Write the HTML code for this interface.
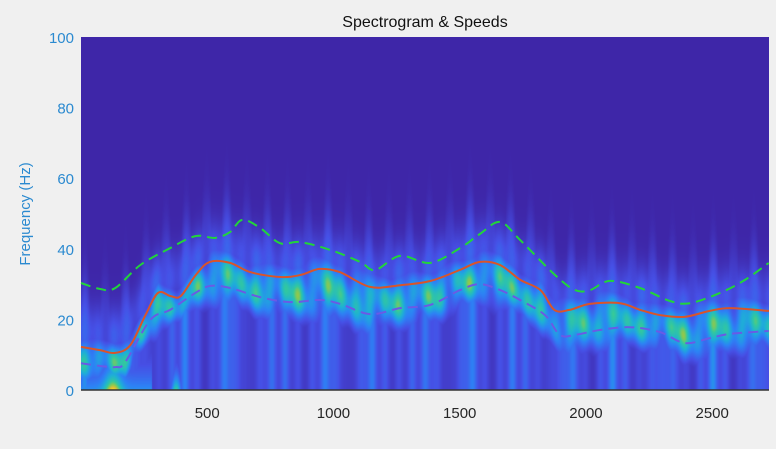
<!DOCTYPE html>
<html><head><meta charset="utf-8">
<style>
html,body{margin:0;padding:0;background:#f0f0f0;}
#wrap{position:relative;width:776px;height:449px;font-family:"Liberation Sans",sans-serif;}
canvas{position:absolute;left:81px;top:37px;}
svg{position:absolute;left:0;top:0;}
</style></head>
<body>
<div id="wrap">
<canvas id="spec" width="688" height="353"></canvas>
<svg id="svg" width="776" height="449"></svg>
</div>
<script>
const xTicks=[500,1000,1500,2000,2500];
const yTicks=[0,20,40,60,80,100];
const speedX=[0,75,135,195,255,305,355,395,455,510,590,670,790,870,945,1025,1145,1265,1385,1500,1580,1660,1740,1820,1875,1935,2015,2135,2215,2295,2390,2490,2570,2725];
const speedY=[12.2,11.3,10.5,12.7,21.2,27.5,26.6,26.6,32.6,36.3,36,33.4,32,32.6,34.3,33.4,29.2,29.7,30.9,34,36.3,35.4,31.2,28.3,22.7,22.7,24.4,24.6,22.7,21.2,20.7,22.4,23.2,22.4];
const upperX=[0,76,136,235,353,453,532,591,639,710,788,868,987,1105,1165,1264,1383,1501,1580,1660,1739,1877,1957,2016,2095,2214,2333,2412,2531,2630,2724];
const upperY=[30.3,28.6,28.9,35.4,40.2,43.6,43.1,44.8,48.2,45.9,41.6,41.9,39.7,36.3,34,38,36,40.2,44.2,47.6,42.5,32.6,28.3,28.3,30.9,28.9,25.2,24.6,27.5,31.2,36];
const lowerX=[0,76,136,175,274,353,453,512,591,710,828,947,1026,1145,1264,1383,1501,1580,1660,1739,1838,1897,1957,2055,2174,2293,2392,2491,2570,2724];
const lowerY=[7.6,6.8,6.5,7.9,19.8,22.7,27.5,29.5,28.9,26.3,24.9,25.5,24.4,21.5,23.2,24.1,28.3,30,28.3,25.5,21.2,15.6,15.6,17,17.8,16.4,13.3,14.7,15.9,16.7];
const xMax=2725,yMax=100;
const L=81,T=37,W=688,H=353;
const sx=v=>L+v/xMax*W, sy=v=>T+H-v/yMax*H;
function interp(xs,ys,x){if(x<=xs[0])return ys[0];for(let i=1;i<xs.length;i++){if(x<=xs[i]){const t=(x-xs[i-1])/(xs[i]-xs[i-1]);return ys[i-1]+t*(ys[i]-ys[i-1]);}}return ys[ys.length-1];}
const cmap=[[0,62,38,168],[0.22,70,80,230],[0.4,45,130,245],[0.55,30,175,215],[0.7,50,200,160],[0.8,140,200,80],[0.9,235,190,50],[1,250,245,20]];
function col(v){v=Math.max(0,Math.min(1,v));for(let i=1;i<cmap.length;i++){if(v<=cmap[i][0]){const a=cmap[i-1],b=cmap[i],t=(v-a[0])/(b[0]-a[0]);return [a[1]+t*(b[1]-a[1]),a[2]+t*(b[2]-a[2]),a[3]+t*(b[3]-a[3])];}}return cmap[cmap.length-1].slice(1);}
const cv=document.getElementById('spec'),ctx=cv.getContext('2d'),img=ctx.createImageData(W,H);
for(let px=0;px<W;px++){
 const x=px/W*xMax;
 const r=interp(speedX,speedY,x),b=interp(lowerX,lowerY,x);
 const c=(r+b)/2-1, w=Math.max(5,(r-b)*0.7+3);
 const s1=Math.sin(px*0.31+0.5),s2=Math.sin(px*0.13+1.3);
 const tex=0.78+0.22*s1*s2;
 for(let py=0;py<H;py++){
  const y=(H-py)/H*yMax;
  const dy=y-c;
  let v=0.72*tex*Math.exp(-Math.pow(dy/w,2)) + 0.12*Math.sin((y+px*0.4)*0.35)*Math.exp(-Math.pow(dy/w,2));
  if(y<c) v=Math.max(v,(0.33+0.12*s2)*tex*(0.85+0.15*Math.sin(px*0.5)));
  v=Math.max(v,0.3*tex*Math.exp(-Math.pow((dy-8)/(8+6*Math.max(0,s1)),2)));
  if(x<280 && y<16){const g=Math.exp(-Math.pow((x-125)/35,2));v=Math.max(v,0.45*Math.exp(-y/10)+0.55*g*Math.exp(-y/6));}
  if(x>330&&x<420&&y<8) v=Math.max(v,0.75*Math.exp(-Math.pow((x-375)/22,2))*Math.exp(-y/6));
  const cc=col(v),k=(py*W+px)*4;
  img.data[k]=cc[0];img.data[k+1]=cc[1];img.data[k+2]=cc[2];img.data[k+3]=255;
 }
}
ctx.putImageData(img,0,0);
const svg=document.getElementById('svg'),NS='http://www.w3.org/2000/svg';
function mk(t,a,p){const e=document.createElementNS(NS,t);for(const k in a)e.setAttribute(k,a[k]);(p||svg).appendChild(e);return e;}
function line(xs,ys,stroke,dash,name){
 const P=xs.map((x,i)=>[sx(x),sy(ys[i])]);
 let d='M'+P[0][0].toFixed(1)+','+P[0][1].toFixed(1);
 for(let i=0;i<P.length-1;i++){
  const p0=P[Math.max(0,i-1)],p1=P[i],p2=P[i+1],p3=P[Math.min(P.length-1,i+2)];
  const c1=[p1[0]+(p2[0]-p0[0])/6,p1[1]+(p2[1]-p0[1])/6],c2=[p2[0]-(p3[0]-p1[0])/6,p2[1]-(p3[1]-p1[1])/6];
  d+=' C'+c1.map(v=>v.toFixed(1))+' '+c2.map(v=>v.toFixed(1))+' '+p2.map(v=>v.toFixed(1));
 }
 const e=mk('path',{d:d,fill:'none',stroke:stroke,'stroke-width':2,'stroke-dasharray':dash,'stroke-linejoin':'round'});
 
 
}
line(lowerX,lowerY,'#6a5ae6','10,6','lower-speed-line');
line(upperX,upperY,'#22d43a','10,6','upper-speed-line');
line(speedX,speedY,'#d9542a','none','speed-line');
mk('line',{x1:L,y1:T+H,x2:L+W,y2:T+H,stroke:'#333','stroke-width':1.5});
xTicks.forEach(v=>{
 const t=mk('text',{x:sx(v),y:418,'text-anchor':'middle','font-size':15,fill:'#262626'});
 t.textContent=v;
 
 
});
yTicks.forEach(v=>{
 const t=mk('text',{x:74,y:sy(v)+6,'text-anchor':'end','font-size':15,fill:'#2b8ad0'});
 t.textContent=v;
 
 
});
const yt=mk('text',{x:0,y:0,transform:'translate(30,214) rotate(-90)','text-anchor':'middle','font-size':15,fill:'#2b8ad0'});
yt.textContent='Frequency (Hz)';


const tt=mk('text',{x:425,y:27,'text-anchor':'middle','font-size':16,fill:'#111'});
tt.textContent='Spectrogram & Speeds';


</script>
</body></html>
